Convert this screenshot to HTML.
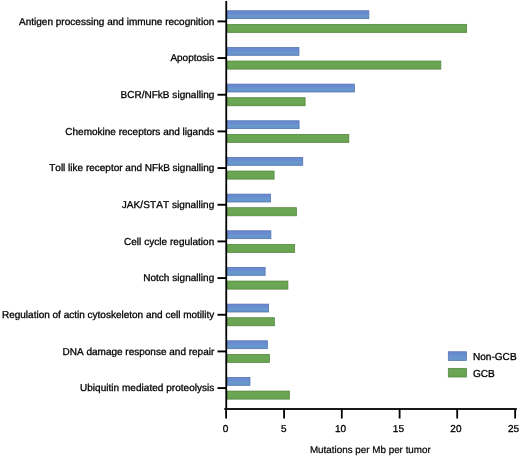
<!DOCTYPE html>
<html><head><meta charset="utf-8"><title>chart</title>
<style>
html,body{margin:0;padding:0;background:#fff;}
svg{display:block;will-change:transform;filter:blur(0.3px);}
text{font-family:"Liberation Sans",sans-serif;font-size:10px;fill:#000;stroke:#000;stroke-width:0.3px;text-rendering:geometricPrecision;font-kerning:none;}
</style></head><body>
<svg width="520" height="457" viewBox="0 0 520 457">
<defs>
<linearGradient id="gb" x1="0" y1="0" x2="0" y2="1"><stop offset="0" stop-color="#6988cf"/><stop offset="0.42" stop-color="#698dd1"/><stop offset="0.58" stop-color="#6898ce"/><stop offset="1" stop-color="#6594c8"/></linearGradient>
<linearGradient id="gg" x1="0" y1="0" x2="0" y2="1"><stop offset="0" stop-color="#6aa552"/><stop offset="0.5" stop-color="#6ba654"/><stop offset="1" stop-color="#68a24f"/></linearGradient>
</defs>
<rect width="520" height="457" fill="#fff"/>

<rect x="227.0" y="10.75" width="141.85" height="7.9" fill="url(#gb)" stroke="#5472b0" stroke-width="0.75"/>
<rect x="227.0" y="24.35" width="239.65" height="8.1" fill="url(#gg)" stroke="#558540" stroke-width="0.75"/>
<rect x="217.5" y="20.45" width="8.6" height="1.9" fill="#000"/>
<text x="214.32" y="24.70" text-anchor="end" style="letter-spacing:0.0195px">Antigen processing and immune recognition</text>
<rect x="227.0" y="47.42" width="71.95" height="7.9" fill="url(#gb)" stroke="#5472b0" stroke-width="0.75"/>
<rect x="227.0" y="61.02" width="213.85" height="8.1" fill="url(#gg)" stroke="#558540" stroke-width="0.75"/>
<rect x="217.5" y="57.12" width="8.6" height="1.9" fill="#000"/>
<text x="214.30" y="61.37" text-anchor="end" style="letter-spacing:0.0000px">Apoptosis</text>
<rect x="227.0" y="84.09" width="127.40" height="7.9" fill="url(#gb)" stroke="#5472b0" stroke-width="0.75"/>
<rect x="227.0" y="97.69" width="78.10" height="8.1" fill="url(#gg)" stroke="#558540" stroke-width="0.75"/>
<rect x="217.5" y="93.79" width="8.6" height="1.9" fill="#000"/>
<text x="214.33" y="98.04" text-anchor="end" style="letter-spacing:0.0263px">BCR/NFkB signalling</text>
<rect x="227.0" y="120.76" width="72.10" height="7.9" fill="url(#gb)" stroke="#5472b0" stroke-width="0.75"/>
<rect x="227.0" y="134.36" width="121.85" height="8.1" fill="url(#gg)" stroke="#558540" stroke-width="0.75"/>
<rect x="217.5" y="130.46" width="8.6" height="1.9" fill="#000"/>
<text x="214.30" y="134.71" text-anchor="end" style="letter-spacing:0.0000px">Chemokine receptors and ligands</text>
<rect x="227.0" y="157.43" width="75.75" height="7.9" fill="url(#gb)" stroke="#5472b0" stroke-width="0.75"/>
<rect x="227.0" y="171.03" width="47.10" height="8.1" fill="url(#gg)" stroke="#558540" stroke-width="0.75"/>
<rect x="217.5" y="167.13" width="8.6" height="1.9" fill="#000"/>
<text x="214.30" y="171.38" text-anchor="end" style="letter-spacing:0.0000px">Toll like receptor and NFkB signalling</text>
<rect x="227.0" y="194.10" width="43.65" height="7.9" fill="url(#gb)" stroke="#5472b0" stroke-width="0.75"/>
<rect x="227.0" y="207.70" width="69.40" height="8.1" fill="url(#gg)" stroke="#558540" stroke-width="0.75"/>
<rect x="217.5" y="203.80" width="8.6" height="1.9" fill="#000"/>
<text x="214.37" y="208.05" text-anchor="end" style="letter-spacing:0.0737px">JAK/STAT signalling</text>
<rect x="227.0" y="230.77" width="43.90" height="7.9" fill="url(#gb)" stroke="#5472b0" stroke-width="0.75"/>
<rect x="227.0" y="244.37" width="67.65" height="8.1" fill="url(#gg)" stroke="#558540" stroke-width="0.75"/>
<rect x="217.5" y="240.47" width="8.6" height="1.9" fill="#000"/>
<text x="214.34" y="244.72" text-anchor="end" style="letter-spacing:0.0429px">Cell cycle regulation</text>
<rect x="227.0" y="267.44" width="38.15" height="7.9" fill="url(#gb)" stroke="#5472b0" stroke-width="0.75"/>
<rect x="227.0" y="281.04" width="60.90" height="8.1" fill="url(#gg)" stroke="#558540" stroke-width="0.75"/>
<rect x="217.5" y="277.14" width="8.6" height="1.9" fill="#000"/>
<text x="214.34" y="281.39" text-anchor="end" style="letter-spacing:0.0375px">Notch signalling</text>
<rect x="227.0" y="304.11" width="41.65" height="7.9" fill="url(#gb)" stroke="#5472b0" stroke-width="0.75"/>
<rect x="227.0" y="317.71" width="47.40" height="8.1" fill="url(#gg)" stroke="#558540" stroke-width="0.75"/>
<rect x="217.5" y="313.81" width="8.6" height="1.9" fill="#000"/>
<text x="214.30" y="318.06" text-anchor="end" style="letter-spacing:0.0000px">Regulation of actin cytoskeleton and cell motility</text>
<rect x="227.0" y="340.78" width="40.40" height="7.9" fill="url(#gb)" stroke="#5472b0" stroke-width="0.75"/>
<rect x="227.0" y="354.38" width="42.40" height="8.1" fill="url(#gg)" stroke="#558540" stroke-width="0.75"/>
<rect x="217.5" y="350.48" width="8.6" height="1.9" fill="#000"/>
<text x="214.30" y="354.73" text-anchor="end" style="letter-spacing:0.0000px">DNA damage response and repair</text>
<rect x="227.0" y="377.45" width="22.95" height="7.9" fill="url(#gb)" stroke="#5472b0" stroke-width="0.75"/>
<rect x="227.0" y="391.05" width="62.45" height="8.1" fill="url(#gg)" stroke="#558540" stroke-width="0.75"/>
<rect x="217.5" y="387.15" width="8.6" height="1.9" fill="#000"/>
<text x="214.33" y="391.40" text-anchor="end" style="letter-spacing:0.0300px">Ubiquitin mediated proteolysis</text>
<rect x="225.35" y="1" width="1.8" height="408.8" fill="#000"/>
<rect x="224.3" y="408.1" width="292.5" height="1.8" fill="#000"/>
<rect x="225.20" y="409" width="1.8" height="9.5" fill="#000"/>
<text x="225.55" y="431.8" text-anchor="middle" style="font-size:10px">0</text>
<rect x="283.20" y="409" width="1.8" height="9.5" fill="#000"/>
<text x="283.70" y="431.8" text-anchor="middle" style="font-size:10px">5</text>
<rect x="340.90" y="409" width="1.8" height="9.5" fill="#000"/>
<text x="340.60" y="431.8" text-anchor="middle" style="font-size:10px">10</text>
<rect x="398.70" y="409" width="1.8" height="9.5" fill="#000"/>
<text x="398.40" y="431.8" text-anchor="middle" style="font-size:10px">15</text>
<rect x="456.30" y="409" width="1.8" height="9.5" fill="#000"/>
<text x="455.90" y="431.8" text-anchor="middle" style="font-size:10px">20</text>
<rect x="514.25" y="409" width="1.8" height="9.5" fill="#000"/>
<text x="513.60" y="431.8" text-anchor="middle" style="font-size:10px">25</text>
<text x="309.9" y="453.35" style="font-size:9.85px;stroke-width:0.2px">Mutations per Mb per tumor</text>
<rect x="448.3" y="351.75" width="18.1" height="8.7" fill="url(#gb)" stroke="#5472b0" stroke-width="0.75"/>
<rect x="448.3" y="368.35" width="18.1" height="8.7" fill="url(#gg)" stroke="#558540" stroke-width="0.75"/>
<text x="472.9" y="359.9" style="font-size:10.1px">Non-GCB</text>
<text x="472.9" y="376.6" style="font-size:10.1px">GCB</text>
</svg></body></html>
